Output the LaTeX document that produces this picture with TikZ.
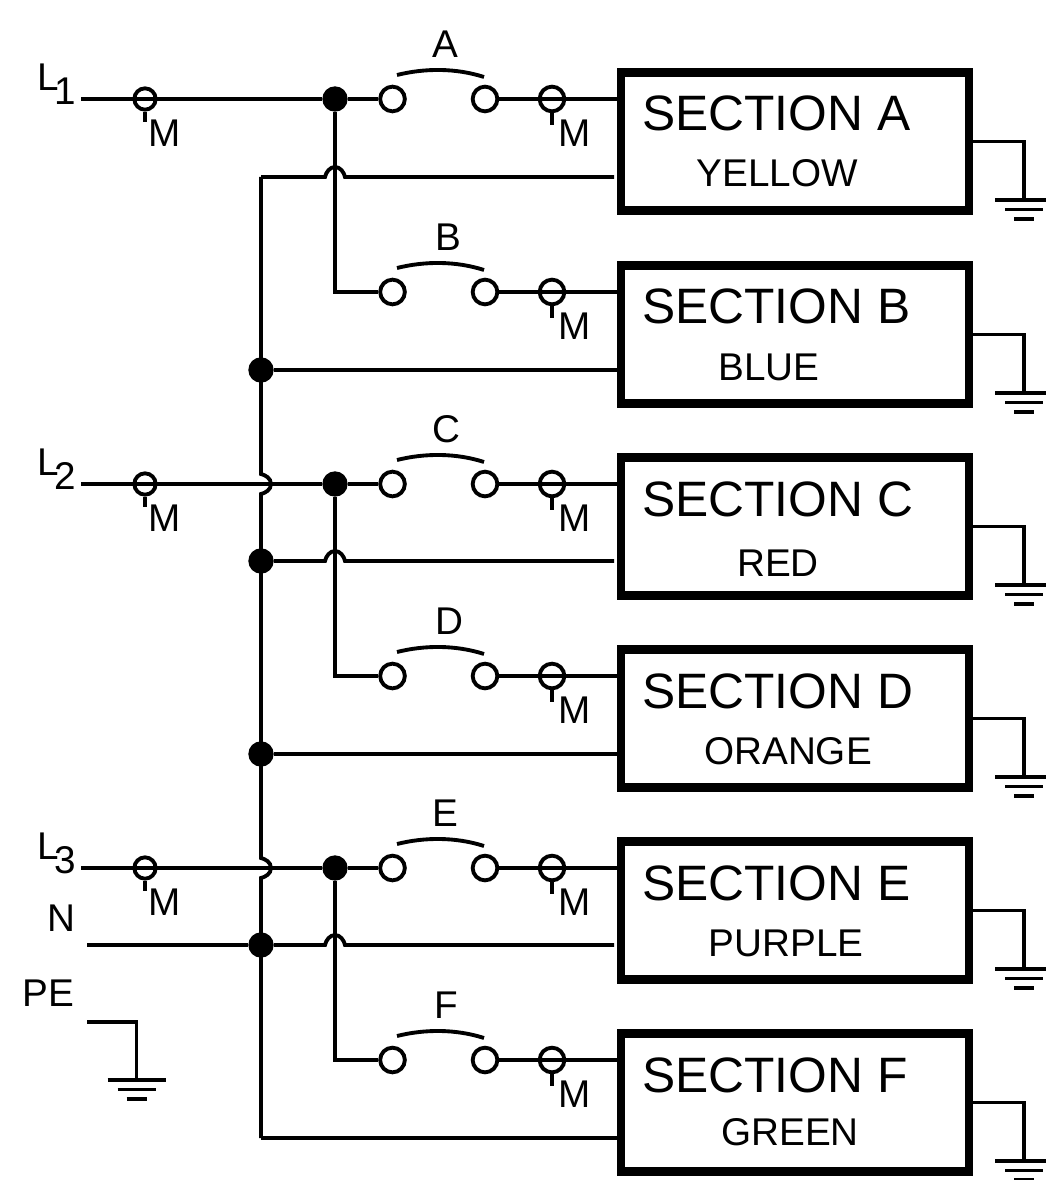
\documentclass[tikz,border=0pt]{standalone}
\usepackage{fontspec}
\setmainfont{Liberation Sans}
\usetikzlibrary{calc}
\tikzset{
	wire/.style={line width=2.9pt},
	term/.style={circle,draw,line width=2.9pt,inner sep=0pt,minimum size=18.5pt},
	meter/.style={circle,draw,line width=2.9pt,inner sep=0pt,minimum size=18.5pt},
	smallmeter/.style={meter,minimum size=16pt},
	junction/.style={circle,fill=black,inner sep=0pt,minimum size=19pt},
	sectionbox/.style={draw,line width=6.2pt,minimum width=261pt,minimum height=103.5pt,inner sep=0pt},
	titletext/.style={anchor=base west,inner sep=0pt,font=\fontsize{37.3pt}{40pt}\selectfont},
	colourtext/.style={inner sep=0pt,font=\fontsize{29pt}{32pt}\selectfont},
	swtext/.style={inner sep=0pt,font=\fontsize{29pt}{30pt}\selectfont},
	mtext/.style={inner sep=0pt,font=\fontsize{29pt}{32pt}\selectfont},
	linetext/.style={inner sep=0pt,anchor=base west,font=\fontsize{29pt}{32pt}\selectfont},
	gnd/.pic={
		\draw[wire] (-29,0) -- (29,0);
		\draw[wire] (-19,9.5) -- (19,9.5);
		\draw[wire] (-10,19) -- (10,19);
	},
}
\begin{document}
\begin{tikzpicture}[x=0.75pt,y=-0.75pt]
	\useasboundingbox (0,0) rectangle (1045,1180);

	% the six sections
	\foreach \sw/\yr/\lx/\col/\cx/\cy in {A/99/445/YELLOW/777/173,B/292/448/BLUE/769/367,C/484/446/RED/778/563,D/676/449/ORANGE/788/751,E/868/445/PURPLE/786/943,F/1060/446/GREEN/790/1132}{
		\node[sectionbox] (sec\sw) at (795,\yr+42.5) {};
		\node[titletext] (title\sw) at (642,\yr+32) {SECTION \sw};
		\node[colourtext] (col\sw) at (\cx,\cy) {\col};

		\node[term] (in\sw) at (392.5,\yr) {};
		\node[term] (out\sw) at (485,\yr) {};
		\node[meter] (m\sw) at (552,\yr) {};
		\node[mtext] (mlab\sw) at (574.5,\yr+34) {M};
		\node[swtext] (swlab\sw) at (\lx,\yr-55) {\sw};

		\draw[wire] (397,\yr-24) .. controls (425,\yr-31) and (456,\yr-31) .. (484,\yr-22);
		\draw[wire] (out\sw) -- (sec\sw.west |- out\sw);
		\draw[wire] (m\sw.south) -- ++(0,12);

		\coordinate (g\sw) at (1024,\yr+101);
		\draw[wire] (sec\sw.east) -| (g\sw);
		\pic at (g\sw) {gnd};
	}

	% incoming lines with tap points
	\foreach \n/\yr/\upper/\lower/\lab in {1/99/A/B/91,2/484/C/D/475,3/868/E/F/859}{
		\node[junction] (tap\n) at (335,\yr) {};
		\node[smallmeter] (lm\n) at (145,\yr) {};
		\node[mtext] (lmlab\n) at (165,\yr+34) {M};
		\node[linetext] (lab\n) at (37,\lab) {L\hspace{-3pt}\raisebox{-10.5pt}{\n}};
		\coordinate (start\n) at (81,\yr);
		\draw[wire] (start\n) -- (tap\n) -- (in\upper);
		\draw[wire] (tap\n) |- (in\lower);
		\draw[wire] (lm\n.south) -- ++(0,10);
	}

	% bus with its junctions
	\coordinate (busA) at (261,177);
	\node[junction] (busB) at (261,370) {};
	\node[junction] (busC) at (261,561) {};
	\node[junction] (busD) at (261,754) {};
	\node[junction] (busE) at (261,945) {};
	\coordinate (busF) at (261,1138);

	\draw[wire] (busA) -- (261,474) .. controls (265,475) and (271,478) .. (271,484) .. controls (271,490) and (265,493) .. (261,494)
		-- (261,858) .. controls (265,859) and (271,862) .. (271,868) .. controls (271,874) and (265,877) .. (261,878) -- (busF);

	% neutral returns, the upper ones hop over the tap line
	\foreach \from/\sw/\yr in {busA/A/177,busC/C/561,busE/E/945}{
		\coordinate (ret\sw) at (614,\yr);
		\draw[wire] (\from) -- (325,\yr) .. controls (326,\yr-5) and (330,\yr-10) .. (335,\yr-10) .. controls (340,\yr-10) and (344,\yr-5) .. (345,\yr) -- (ret\sw);
	}
	\draw[wire] (busB) -- (secB.west |- busB);
	\draw[wire] (busD) -- (secD.west |- busD);
	\draw[wire] (busF) -- (secF.west |- busF);

	% N and PE
	\node[linetext] (labN) at (47,931) {N};
	\coordinate (startN) at (87,945);
	\draw[wire] (startN) -- (busE);

	\node[linetext] (labPE) at (22,1006) {PE};
	\coordinate (startPE) at (87,1022);
	\coordinate (gPE) at (136.5,1080);
	\draw[wire] (startPE) -| (gPE);
	\pic at (gPE) {gnd};
\end{tikzpicture}
\end{document}
